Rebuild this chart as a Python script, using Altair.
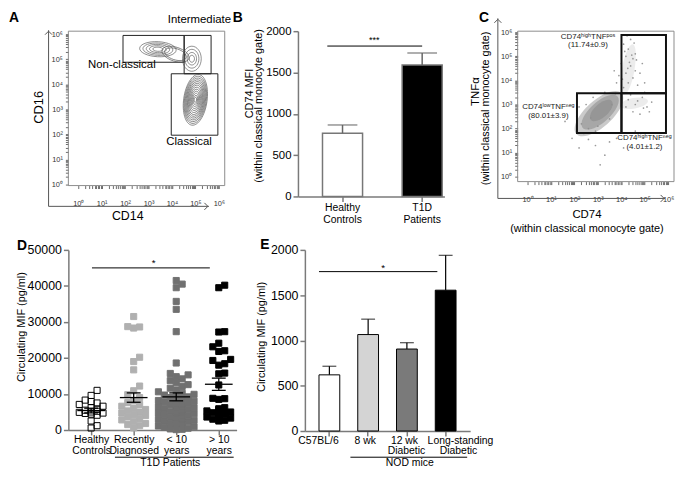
import json
import altair as alt
import pandas as pd

FONT = "Liberation Sans"

# ====================== DATA ======================
# ---- Panel A: CD14 (x) vs CD16 (y) gating, values in log10 units ----
A_GATE_X1 = [1.91, 4.52, 3.97]
A_GATE_X2 = [4.52, 5.67, 5.96]
A_GATE_Y1 = [4.88, 4.42, 1.97]
A_GATE_Y2 = [5.95, 5.95, 4.42]
A_LABELS = ["Intermediate", "Non-classical", "Classical"]
A_LABEL_X = [5.17, 1.86, 4.73]
A_LABEL_Y = [6.55, 4.78, 1.70]
A_CLUSTER_X = [5.00, 3.40, 4.85, 4.15]
A_CLUSTER_Y = [3.38, 5.40, 5.02, 5.20]
A_CLUSTER_RX = [0.50, 0.78, 0.40, 0.60]
A_CLUSTER_RY = [1.02, 0.30, 0.50, 0.28]
A_CLUSTER_TILT = [8, 3, 0, 18]
A_RING_LEVELS = [
    [1.0, 0.93, 0.86, 0.79, 0.72, 0.65, 0.58, 0.50, 0.42, 0.34, 0.26, 0.18, 0.10],
    [1.0, 0.82, 0.64, 0.46, 0.28],
    [1.0, 0.75, 0.50, 0.28],
    [1.0, 0.80],
]

# ---- Panel B ----
B_GROUPS = ["Healthy Controls", "T1D Patients"]
B_MEAN = [765, 1590]
B_UPPER = [865, 1735]
B_SIG_Y = 1820

# ---- Panel C: CD74 (x) vs TNFa (y), log10 units ----
C_GATE_X1 = [2.11, 4.01, 4.01]
C_GATE_X2 = [4.01, 5.91, 5.91]
C_GATE_Y1 = [1.82, 1.82, 3.47]
C_GATE_Y2 = [3.47, 3.47, 5.88]
C_LABELS = ["CD74ˡᵒʷTNFⁿᵉᵍ", "(80.01±3.9)", "CD74ʰⁱᵍʰTNFᵖᵒˢ", "(11.74±0.9)",
            "CD74ʰⁱᵍʰTNFⁿᵉᵍ", "(4.01±1.2)"]
C_LABEL_X = [0.89, 0.89, 2.58, 2.58, 4.99, 4.99]
C_LABEL_Y = [2.88, 2.53, 5.80, 5.45, 1.62, 1.22]
C_CLOUD_X = [3.05, 3.10, 3.15, 4.30, 4.55]
C_CLOUD_Y = [2.62, 2.68, 2.75, 4.45, 3.05]
C_CLOUD_MAJOR = [1.30, 1.00, 0.60, 1.10, 0.60]
C_CLOUD_MINOR = [0.55, 0.42, 0.28, 0.26, 0.22]
C_CLOUD_TILT = [318, 318, 318, 280, 350]
C_EVENTS_X = [4.10, 4.30, 4.20, 4.50, 4.00, 4.40, 4.60, 4.20, 3.90, 4.50, 4.30, 4.70, 4.10, 3.80,
              4.80, 4.40, 4.60, 3.70, 5.00, 4.90, 4.25, 4.55, 4.05, 4.35, 4.15, 4.45, 4.65, 4.28,
              4.30, 4.60, 4.90, 5.10, 4.50, 4.80, 5.30, 4.20, 5.00, 4.40, 5.20, 4.70, 4.95,
              2.30, 2.60, 2.10, 2.50, 2.80, 3.30, 2.40, 3.00, 3.50, 2.20, 2.90, 3.60, 3.75, 2.70,
              2.90, 3.30, 2.20, 3.80, 4.60, 1.60, 3.10, 4.10, 1.90, 3.50, 2.60]
C_EVENTS_Y = [5.50, 5.30, 5.00, 4.90, 4.70, 4.60, 4.40, 4.30, 4.20, 4.10, 3.90, 3.80, 3.70, 3.90,
              4.30, 5.70, 5.10, 4.40, 3.90, 4.70, 5.85, 5.55, 4.05, 4.75, 5.20, 5.05, 4.85, 4.50,
              3.20, 3.00, 3.30, 2.90, 2.70, 2.60, 3.10, 2.90, 3.50, 3.40, 2.70, 3.15, 2.85,
              2.20, 2.00, 2.50, 3.00, 3.30, 3.50, 1.80, 2.10, 2.40, 2.90, 1.90, 3.00, 3.45, 2.45,
              1.30, 0.90, 1.20, 1.60, 1.90, 2.30, 0.50, 1.20, 1.60, 1.45, 1.55]

# ---- Panel D: circulating MIF (pg/ml) ----
D_GROUPS = ["Healthy Controls", "Recently Diagnosed", "< 10 years", "> 10 years"]
D_HC = [11000, 9600, 8300, 7900, 7500, 7100, 6600, 6200, 5800, 5500, 5200, 5000, 4900,
        4700, 4600, 4400, 4100, 2500, 1200, 550]
D_RD = [31500, 28700, 28300, 28600, 20200, 19000, 16700, 12200, 10900, 9800, 9000, 8200,
        7600, 7100, 6600, 6100, 5700, 5300, 5000, 4700, 4300, 4000, 3600, 3200, 2800, 2400,
        1800, 1500, 1200, 600]
D_LT10 = [41500, 40500, 39500, 35700, 33500, 27300, 18600, 15700, 15300, 14800, 14200, 13700,
          13100, 12600, 12100, 11600, 11100, 10600, 10200, 9900, 9700, 9400, 9200, 9000, 8700,
          8500, 8200, 8000, 7800, 7500, 7300, 7100, 6800, 6600, 6400, 6200, 6000, 5800, 5600,
          5400, 5200, 5000, 4800, 4700, 4500, 4300, 4100, 3900, 3700, 3500, 3300, 3100, 2900,
          2700, 2500, 2300, 2100, 1900, 1700, 1500, 1300, 1100, 900, 700, 500, 300, 200, 100]
D_GT10 = [40200, 39500, 27300, 27200, 24100, 23100, 22000, 21800, 19600, 19300, 18400, 18000,
          15800, 15600, 12500, 8800, 8700, 8500, 6200, 5900, 5600, 5300, 5000, 4800, 4600,
          4400, 4200, 3900, 3600, 3300, 3000, 2700, 2500]
D_MEAN = [5400, 9000, 9200, 12700]
D_SEM = [650, 1300, 1100, 1700]
D_SIG = {"x1": 0.02, "x2": 2.79, "y": 45000, "star_x": 1.47}
D_BRACKET = {"x1": 0.56, "x2": 3.35, "text_x": 1.86}
D_YTICKS = [0, 10000, 20000, 30000, 40000, 50000]

# ---- Panel E: circulating MIF in mice ----
E_GROUPS = ["C57BL/6", "8 wk", "12 wk\nDiabetic", "Long-standing\nDiabetic"]
E_MEAN = [620, 1065, 905, 1555]
E_UPPER = [715, 1235, 975, 1940]
E_SIG_Y = 1760

# ====================== LAYOUT CONSTANTS ======================
# plot-area origin of every panel, in figure pixels
ORG = {"A": (68, 28), "B": (300, 28), "C": (522, 28), "D": (60, 247), "E": (299, 247)}
SIZE = {"A": (158, 156), "B": (148, 167), "C": (158, 152), "D": (170, 182), "E": (167, 183)}

ONE = pd.DataFrame({"k": [0]})
GREY_AX = "#7a7a7a"
SUP = ["⁰", "¹", "²", "³", "⁴", "⁵", "⁶"]
LOG_LABEL = ("abs(log(datum.value)/LN10 - round(log(datum.value)/LN10)) < 0.01 ? '10' + "
             + json.dumps(SUP) + "[round(log(datum.value)/LN10)] : ''")
LOG_TICKS = [m * 10 ** k for k in range(0, 7) for m in range(1, 10) if m * 10 ** k <= 1e6]


def L(p, rx, ry):
    return rx - ORG[p][0], ry - ORG[p][1]


def ellipse_path(r):
    k = 0.5523
    return (f"M-1,0C-1,{-k*r:.4f},{-k:.4f},{-r:.4f},0,{-r:.4f}"
            f"C{k:.4f},{-r:.4f},1,{-k*r:.4f},1,0"
            f"C1,{k*r:.4f},{k:.4f},{r:.4f},0,{r:.4f}"
            f"C{-k:.4f},{r:.4f},-1,{k*r:.4f},-1,0Z")


def text(t, p, rx, ry, size=11, angle=0, weight="normal", align="center", baseline="middle",
         color="black"):
    x, y = L(p, rx, ry)
    return alt.Chart(ONE).mark_text(font=FONT, fontSize=size, angle=angle, fontWeight=weight,
                                    align=align, baseline=baseline, color=color).encode(
        x=alt.value(x), y=alt.value(y), text=alt.value(t))


def vline(p, rx, ry1, ry2, color="#555", w=1.0):
    x, y1 = L(p, rx, ry1)
    _, y2 = L(p, rx, ry2)
    return alt.Chart(ONE).mark_rule(color=color, strokeWidth=w).encode(
        x=alt.value(x), y=alt.value(y1), y2=alt.value(y2))


def hline(p, ry, rx1, rx2, color="#555", w=1.0):
    x1, y = L(p, rx1, ry)
    x2, _ = L(p, rx2, ry)
    return alt.Chart(ONE).mark_rule(color=color, strokeWidth=w).encode(
        y=alt.value(y), x=alt.value(x1), x2=alt.value(x2))


def chevron(p, rx, ry, path, color="#555"):
    x, y = L(p, rx, ry)
    return alt.Chart(ONE).mark_point(shape=path, filled=False, color=color, strokeWidth=1,
                                     size=50, opacity=1).encode(x=alt.value(x), y=alt.value(y))


def log_axis(orient, pad):
    return alt.Axis(orient=orient, values=LOG_TICKS, labelExpr=LOG_LABEL, domain=False,
                    ticks=True, tickSize=3, tickColor="#444", tickWidth=0.8, labelFontSize=7.5,
                    labelColor="#333", labelPadding=pad, labelOverlap=False, labelFlush=False,
                    grid=False, title=None)


def lin_axis(orient, **kw):
    base = dict(orient=orient, tickSize=5, tickColor=GREY_AX, tickWidth=1.5, domainColor=GREY_AX,
                domainWidth=1.5, labelColor="black", grid=False, labelFlush=False,
                labelOverlap=False, title=None)
    base.update(kw)
    return alt.Axis(**base)


UP = "M-1,1L0,0L1,1"
RIGHT = "M-1,-1L0,0L-1,1"

# ====================== PANEL A ======================
PXA = (23.67, 25.33)
A_XD = [10 ** -0.4225, 10 ** 6.2526]
A_YD = [10 ** -0.0395, 10 ** 6.119]
xA = alt.Scale(type="log", domain=A_XD, nice=False)
yA = alt.Scale(type="log", domain=A_YD, nice=False)

frameA = alt.Chart(pd.DataFrame({"x": [A_XD[0]], "x2": [A_XD[1]], "y": [A_YD[0]], "y2": [A_YD[1]]})
                   ).mark_rect(fillOpacity=0, stroke="#8c8c8c", strokeWidth=1).encode(
    x=alt.X("x:Q", scale=xA, axis=log_axis("bottom", 11)), x2="x2:Q",
    y=alt.Y("y:Q", scale=yA, axis=log_axis("left", 3)), y2="y2:Q")

gatesA = alt.Chart(pd.DataFrame({
    "x": [10 ** v for v in A_GATE_X1], "x2": [10 ** v for v in A_GATE_X2],
    "y": [10 ** v for v in A_GATE_Y1], "y2": [10 ** v for v in A_GATE_Y2]})
).mark_rect(fillOpacity=0, stroke="#222", strokeWidth=1).encode(
    x=alt.X("x:Q", scale=xA), x2="x2:Q", y=alt.Y("y:Q", scale=yA), y2="y2:Q")

rows = []
for cx, cy, rx, ry, tilt, levels in zip(A_CLUSTER_X, A_CLUSTER_Y, A_CLUSTER_RX, A_CLUSTER_RY,
                                        A_CLUSTER_TILT, A_RING_LEVELS):
    for s in levels:
        a = rx * s * PXA[0]
        b = ry * s * PXA[1]
        rows.append({"x": 10 ** cx, "y": 10 ** cy, "shape": ellipse_path(b / a),
                     "size": (2 * a) ** 2, "angle": tilt % 360})
contoursA = alt.Chart(pd.DataFrame(rows)).mark_point(filled=False, color="#555", strokeWidth=0.65,
                                                      opacity=1).encode(
    x=alt.X("x:Q", scale=xA), y=alt.Y("y:Q", scale=yA),
    shape=alt.Shape("shape:N", scale=None), size=alt.Size("size:Q", scale=None),
    angle=alt.Angle("angle:Q", scale=None))

labelsA = alt.Chart(pd.DataFrame({"t": A_LABELS, "x": [10 ** v for v in A_LABEL_X],
                                  "y": [10 ** v for v in A_LABEL_Y]})).mark_text(
    font=FONT, fontSize=11.5, color="black").encode(
    x=alt.X("x:Q", scale=xA), y=alt.Y("y:Q", scale=yA), text="t:N")

panelA = alt.layer(
    vline("A", 8, 8, 235, color="white", w=0.5),
    frameA, gatesA, contoursA, labelsA,
    vline("A", 48, 27, 205), hline("A", 205, 48, 210),
    chevron("A", 48, 28, UP), chevron("A", 209, 205, RIGHT),
    text("CD16", "A", 38, 105, size=13, angle=270), text("CD14", "A", 128, 215, size=12.5),
    text("A", "A", 8, 8, size=14, weight="bold", align="left", baseline="top"),
).properties(width=SIZE["A"][0], height=SIZE["A"][1])

# ====================== PANEL B ======================
xB = alt.Scale(type="band", domain=B_GROUPS, paddingInner=0.497, paddingOuter=0.168, align=0.917)
yB = alt.Scale(domain=[0, 2000], nice=False)
dfB = pd.DataFrame({"g": B_GROUPS, "mean": B_MEAN, "upper": B_UPPER})

barsB = alt.Chart(dfB).mark_bar(stroke="#777", strokeWidth=1.5).encode(
    x=alt.X("g:N", scale=xB, sort=B_GROUPS,
            axis=lin_axis("bottom", labelExpr="split(datum.label, ' ')", labelAngle=0,
                          labelFontSize=10.5, labelPadding=1, labelLineHeight=12)),
    y=alt.Y("mean:Q", scale=yB,
            axis=lin_axis("left", values=[0, 500, 1000, 1500, 2000], format="d",
                          labelFontSize=11.5, labelPadding=2)),
    color=alt.Color("g:N", scale=alt.Scale(domain=B_GROUPS, range=["white", "black"]), legend=None))
errB = alt.Chart(dfB).mark_rule(color="#666", strokeWidth=1.5).encode(
    x=alt.X("g:N", scale=xB, sort=B_GROUPS), y=alt.Y("mean:Q", scale=yB), y2="upper:Q")
capB = alt.Chart(dfB).mark_tick(color="#666", size=30, thickness=1.5).encode(
    x=alt.X("g:N", scale=xB, sort=B_GROUPS), y=alt.Y("upper:Q", scale=yB))
sigB = alt.Chart(pd.DataFrame({"a": [B_GROUPS[0]], "b": [B_GROUPS[1]], "y": [B_SIG_Y]})).mark_rule(
    color="black", strokeWidth=1).encode(
    x=alt.X("a:N", scale=xB, bandPosition=0.12), x2=alt.X2("b", bandPosition=0.5),
    y=alt.Y("y:Q", scale=yB))

panelB = alt.layer(
    barsB, errB, capB, sigB, text("***", "B", 377, 37, size=9),
    text("CD74 MFI", "B", 251.5, 91, size=11, angle=270),
    text("(within classical monocyte gate)", "B", 260.5, 103.5, size=11, angle=270),
    text("B", "B", 234, 8, size=14, weight="bold", align="left", baseline="top"),
).properties(width=SIZE["B"][0], height=SIZE["B"][1])

# ====================== PANEL C ======================
PXC = (23.67, 24.37)
C_XD = [10 ** -0.4225, 10 ** 6.253]
C_YD = [10 ** -0.197, 10 ** 6.04]
xC = alt.Scale(type="log", domain=C_XD, nice=False)
yC = alt.Scale(type="log", domain=C_YD, nice=False)

frameC = alt.Chart(pd.DataFrame({"x": [C_XD[0]], "x2": [C_XD[1]], "y": [C_YD[0]], "y2": [C_YD[1]]})
                   ).mark_rect(fillOpacity=0, stroke="#8c8c8c", strokeWidth=1).encode(
    x=alt.X("x:Q", scale=xC, axis=log_axis("bottom", 11)), x2="x2:Q",
    y=alt.Y("y:Q", scale=yC, axis=log_axis("left", 3)), y2="y2:Q")

CLOUD_OPACITY = [0.45, 0.55, 0.6, 0.16, 0.16]
cloud_rows = []
for cx, cy, ma, mi, tilt, op in zip(C_CLOUD_X, C_CLOUD_Y, C_CLOUD_MAJOR, C_CLOUD_MINOR,
                                    C_CLOUD_TILT, CLOUD_OPACITY):
    a = ma * PXC[0]
    b = mi * PXC[1]
    cloud_rows.append({"x": 10 ** cx, "y": 10 ** cy, "shape": ellipse_path(b / a),
                       "size": (2 * a) ** 2, "angle": tilt, "op": op})
cloudC = alt.Chart(pd.DataFrame(cloud_rows)).mark_point(filled=True, color="#8a8a8a",
                                                         strokeWidth=0).encode(
    x=alt.X("x:Q", scale=xC), y=alt.Y("y:Q", scale=yC),
    shape=alt.Shape("shape:N", scale=None), size=alt.Size("size:Q", scale=None),
    angle=alt.Angle("angle:Q", scale=None), opacity=alt.Opacity("op:Q", scale=None))
eventsC = alt.Chart(pd.DataFrame({"x": [10 ** v for v in C_EVENTS_X],
                                  "y": [10 ** v for v in C_EVENTS_Y]})).mark_circle(
    size=3, color="#8f8f8f", opacity=0.9).encode(
    x=alt.X("x:Q", scale=xC), y=alt.Y("y:Q", scale=yC))
gatesC = alt.Chart(pd.DataFrame({
    "x": [10 ** v for v in C_GATE_X1], "x2": [10 ** v for v in C_GATE_X2],
    "y": [10 ** v for v in C_GATE_Y1], "y2": [10 ** v for v in C_GATE_Y2]})
).mark_rect(fillOpacity=0, stroke="#111", strokeWidth=2).encode(
    x=alt.X("x:Q", scale=xC), x2="x2:Q", y=alt.Y("y:Q", scale=yC), y2="y2:Q")
labelsC = alt.Chart(pd.DataFrame({"t": C_LABELS, "x": [10 ** v for v in C_LABEL_X],
                                  "y": [10 ** v for v in C_LABEL_Y]})).mark_text(
    font=FONT, fontSize=8, color="#222").encode(
    x=alt.X("x:Q", scale=xC), y=alt.Y("y:Q", scale=yC), text="t:N")

panelC = alt.layer(
    frameC, cloudC, eventsC, gatesC, labelsC,
    vline("C", 502, 15, 197), hline("C", 197, 502, 671),
    chevron("C", 502, 16, UP), chevron("C", 670, 197, RIGHT),
    text("TNFα", "C", 480, 89, size=11.5, angle=270),
    text("(within classical monocyte gate)", "C", 490, 106, size=11, angle=270),
    text("CD74", "C", 592, 214, size=11.5),
    text("(within classical monocyte gate)", "C", 592, 228, size=11),
    text("C", "C", 483, 8, size=14, weight="bold", align="left", baseline="top"),
).properties(width=SIZE["C"][0], height=SIZE["C"][1])

# ====================== PANEL D ======================
def swarm_offsets(values, px_per_unit, half_width, side=6.0, step=3.0):
    order = sorted(range(len(values)), key=lambda i: values[i])
    cands = [0.0]
    m = 1
    while m * step <= half_width + 1e-9:
        cands += [m * step, -m * step]
        m += 1
    placed, out = [], [0.0] * len(values)
    for i in order:
        yp = values[i] * px_per_unit
        best = None
        for c in cands:
            hits = sum(1 for (px, py) in placed if abs(px - c) < side and abs(py - yp) < side)
            if best is None or hits < best[0]:
                best = (hits, c)
            if hits == 0:
                break
        out[i] = best[1]
        placed.append((best[1], yp))
    return out


D_STEP_PX = 43.0
D_YPX = SIZE["D"][1] / 50000
HALF_W = [12, 14, 18, 14]
pts = []
for gi, (g, vals) in enumerate(zip(D_GROUPS, [D_HC, D_RD, D_LT10, D_GT10])):
    offs = swarm_offsets(vals, D_YPX, HALF_W[gi])
    for v, o in zip(vals, offs):
        pts.append({"g": g, "x": gi + o / D_STEP_PX, "y": v})
dfD = pd.DataFrame(pts)

xD = alt.Scale(domain=[-0.535, 3.419], nice=False, zero=False)
yD = alt.Scale(domain=[0, 50000], nice=False)
D_LINES = [g.rsplit(" ", 1) for g in D_GROUPS]
AX_DX = lin_axis("bottom", values=[0, 1, 2, 3],
                 labelExpr=json.dumps(D_LINES) + "[round(datum.value)]",
                 labelFontSize=10.5, labelPadding=0, labelLineHeight=10.5)
AX_DY = lin_axis("left", values=D_YTICKS, tickCount=len(D_YTICKS), format="d",
                 labelFontSize=12.5, labelPadding=2)


def dx_(field):
    return alt.X(field, type="quantitative", scale=xD, axis=AX_DX)


def dy_(field):
    return alt.Y(field, type="quantitative", scale=yD, axis=AX_DY)


pointsD = alt.Chart(dfD).mark_square(size=38, strokeWidth=1, opacity=1, filled=True).encode(
    x=dx_("x"), y=dy_("y"),
    fill=alt.Fill("g:N", scale=alt.Scale(domain=D_GROUPS,
                                         range=["transparent", "#b0b0b0", "#707070", "black"]),
                  legend=None),
    stroke=alt.Stroke("g:N", scale=alt.Scale(domain=D_GROUPS,
                                             range=["black", "#b0b0b0", "#707070", "black"]),
                      legend=None))

MEAN_HALF = 14 / D_STEP_PX
CAP_HALF = 7 / D_STEP_PX
stat_rows = []
for gi, (mu, se) in enumerate(zip(D_MEAN, D_SEM)):
    stat_rows.append({"x": gi - MEAN_HALF, "x2": gi + MEAN_HALF, "y": mu})
    stat_rows.append({"x": gi - CAP_HALF, "x2": gi + CAP_HALF, "y": mu + se})
    stat_rows.append({"x": gi - CAP_HALF, "x2": gi + CAP_HALF, "y": mu - se})
hstatD = alt.Chart(pd.DataFrame(stat_rows)).mark_rule(color="black", strokeWidth=1.3).encode(
    x=dx_("x"), x2="x2:Q", y=dy_("y"))
vstatD = alt.Chart(pd.DataFrame({"x": list(range(4)),
                                 "lo": [m - s for m, s in zip(D_MEAN, D_SEM)],
                                 "hi": [m + s for m, s in zip(D_MEAN, D_SEM)]})).mark_rule(
    color="black", strokeWidth=1.3).encode(x=dx_("x"), y=dy_("lo"), y2="hi:Q")
sigD = alt.Chart(pd.DataFrame({"x": [D_SIG["x1"]], "x2": [D_SIG["x2"]], "y": [D_SIG["y"]]})
                 ).mark_rule(color="black", strokeWidth=1).encode(x=dx_("x"), x2="x2:Q", y=dy_("y"))
starD = alt.Chart(pd.DataFrame({"x": [D_SIG["star_x"]], "y": [D_SIG["y"]], "t": ["*"]})).mark_text(
    font=FONT, fontSize=10, baseline="bottom").encode(x=dx_("x"), y=dy_("y"), text="t:N")
_, D_BR_Y = L("D", 0, 456.5)
_, D_BR_TY = L("D", 0, 462)
brD = alt.Chart(pd.DataFrame({"x": [D_BRACKET["x1"]], "x2": [D_BRACKET["x2"]]})).mark_rule(
    color="black", strokeWidth=1).encode(x=dx_("x"), x2="x2:Q", y=alt.value(D_BR_Y))
brTextD = alt.Chart(pd.DataFrame({"x": [D_BRACKET["text_x"]], "t": ["T1D Patients"]})).mark_text(
    font=FONT, fontSize=10.5).encode(x=dx_("x"), y=alt.value(D_BR_TY), text="t:N")

panelD = alt.layer(
    vline("D", 8, 235, 466, color="white", w=0.5),
    pointsD, hstatD, vstatD, sigD, starD, brD, brTextD,
    text("Circulating MIF (pg/ml)", "D", 13.5, 325, size=11, angle=270),
    text("D", "D", 8, 236, size=14, weight="bold", align="left", baseline="top"),
).properties(width=SIZE["D"][0], height=SIZE["D"][1])

# ====================== PANEL E ======================
xE = alt.Scale(type="band", domain=E_GROUPS, paddingInner=0.464, paddingOuter=0.364)
yE = alt.Scale(domain=[0, 2000], nice=False)
dfE = pd.DataFrame({"g": E_GROUPS, "mean": E_MEAN, "upper": E_UPPER})

barsE = alt.Chart(dfE).mark_bar(stroke="black", strokeWidth=1).encode(
    x=alt.X("g:N", scale=xE, sort=E_GROUPS, axis=lin_axis("bottom", labels=False)),
    y=alt.Y("mean:Q", scale=yE,
            axis=lin_axis("left", values=[0, 500, 1000, 1500, 2000], format="d",
                          labelFontSize=12.5, labelPadding=2)),
    color=alt.Color("g:N", scale=alt.Scale(domain=E_GROUPS,
                                           range=["white", "#d4d4d4", "#7a7a7a", "black"]),
                    legend=None))
errE = alt.Chart(dfE).mark_rule(color="black", strokeWidth=1.2).encode(
    x=alt.X("g:N", scale=xE, sort=E_GROUPS), y=alt.Y("mean:Q", scale=yE), y2="upper:Q")
capE = alt.Chart(dfE).mark_tick(color="black", size=14, thickness=1.2).encode(
    x=alt.X("g:N", scale=xE, sort=E_GROUPS), y=alt.Y("upper:Q", scale=yE))
sigE = alt.Chart(pd.DataFrame({"a": [E_GROUPS[0]], "b": [E_GROUPS[3]], "y": [E_SIG_Y]})).mark_rule(
    color="black", strokeWidth=1).encode(
    x=alt.X("a:N", scale=xE, bandPosition=0.0), x2=alt.X2("b", bandPosition=0.1),
    y=alt.Y("y:Q", scale=yE))

# category labels under each bar (two lines where the name wraps), nudged as in the figure
E_LABEL_NUDGE = [[-11], [-3], [-2.5, -0.5], [15, 13]]
E_LINE_Y = [440, 450.5]
label_layers = []
for g, nudges in zip(E_GROUPS, E_LABEL_NUDGE):
    for li, (line, dx) in enumerate(zip(g.split("\n"), nudges)):
        _, ly = L("E", 0, E_LINE_Y[li])
        label_layers.append(
            alt.Chart(pd.DataFrame({"g": [g], "t": [line]})).mark_text(
                font=FONT, fontSize=10.5, dx=dx, color="black").encode(
                x=alt.X("g:N", scale=xE, sort=E_GROUPS), y=alt.value(ly), text="t:N"))

panelE = alt.layer(
    barsE, errE, capE, sigE, *label_layers, text("*", "E", 378, 265, size=10),
    hline("E", 456.5, 345, 463, color="black"), text("NOD mice", "E", 405, 462, size=10.5),
    text("Circulating MIF (pg/ml)", "E", 256, 335, size=11, angle=270),
    text("E", "E", 254, 235, size=14, weight="bold", align="left", baseline="top"),
).properties(width=SIZE["E"][0], height=SIZE["E"][1])

# ====================== ASSEMBLY ======================
RES = dict(color="independent", fill="independent", stroke="independent")
row1 = alt.hconcat(panelA, panelB, panelC, spacing=74, bounds="flush").resolve_scale(**RES)
row2 = alt.hconcat(panelD, panelE, spacing=69, bounds="flush").resolve_scale(**RES)
chart = alt.vconcat(row1, row2, spacing=0).resolve_scale(**RES).properties(
    padding={"left": 0, "top": 0, "right": 0, "bottom": 0}
).configure(font=FONT).configure_view(strokeWidth=0).configure_axis(
    grid=False, labelFont=FONT, titleFont=FONT)

chart.save("out.html", embed_options={"renderer": "svg", "actions": False})
